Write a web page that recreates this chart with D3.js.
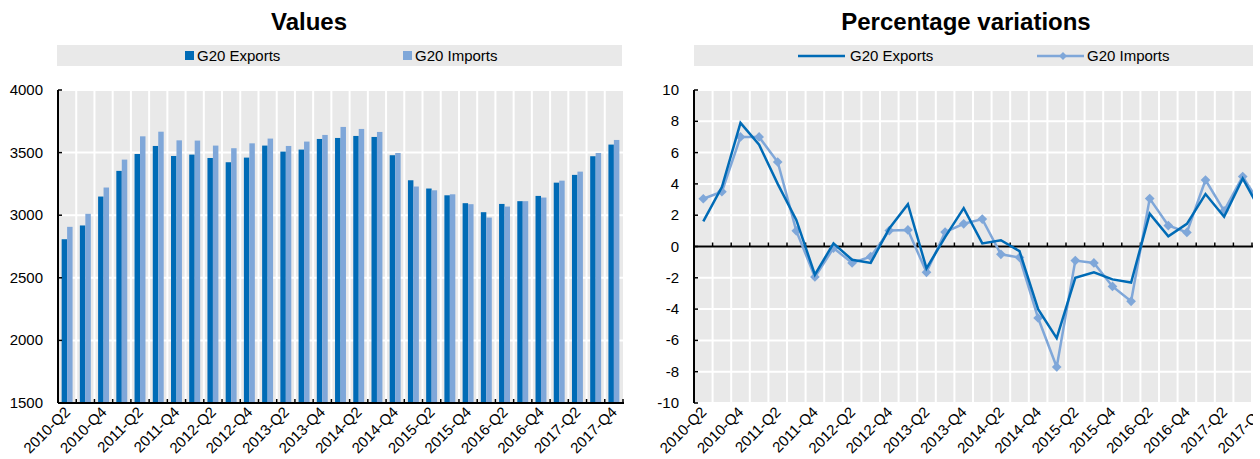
<!doctype html>
<html lang="en">
<head>
    <meta charset="utf-8"/>
    <title>G20 merchandise trade</title>
    <script src="https://d3js.org/d3.v7.min.js"></script>
    <style>
        body { margin: 0; padding: 0; background: #fff; }
        svg { display: block; font-family: "Liberation Sans", Arial, sans-serif; }
        .axis-label { font-size: 15px; fill: #000; }
        .legend-text { font-size: 15px; fill: #000; }
        .title { font-size: 24px; font-weight: bold; }
    </style>
</head>
<body>
<script>
    // quarters shown on both panels
    const quarters = [
        '2010-Q2', '2010-Q3', '2010-Q4',
        '2011-Q1', '2011-Q2', '2011-Q3', '2011-Q4',
        '2012-Q1', '2012-Q2', '2012-Q3', '2012-Q4',
        '2013-Q1', '2013-Q2', '2013-Q3', '2013-Q4',
        '2014-Q1', '2014-Q2', '2014-Q3', '2014-Q4',
        '2015-Q1', '2015-Q2', '2015-Q3', '2015-Q4',
        '2016-Q1', '2016-Q2', '2016-Q3', '2016-Q4',
        '2017-Q1', '2017-Q2', '2017-Q3', '2017-Q4'
    ];

    // values (left panel)
    const exportsValues = [2808, 2918, 3149, 3354, 3489, 3553, 3473, 3484, 3457, 3423, 3460, 3556, 3508, 3524, 3609,
        3617, 3633, 3625, 3479, 3279, 3213, 3159, 3096, 3024, 3090, 3112, 3154, 3260, 3322, 3471, 3564];
    const importsValues = [2907, 3011, 3221, 3444, 3630, 3667, 3598, 3596, 3556, 3535, 3574, 3612, 3553, 3588, 3641,
        3705, 3689, 3665, 3497, 3229, 3199, 3167, 3088, 2981, 3069, 3112, 3141, 3276, 3348, 3497, 3601];

    // percentage variations (right panel)
    const exportsPct = [1.6, 3.8, 7.9, 6.5, 4.0, 1.7, -1.8, 0.2, -0.85, -1.05, 1.15, 2.7, -1.4, 0.6, 2.45,
        0.2, 0.4, -0.3, -4.0, -5.85, -2.0, -1.65, -2.1, -2.3, 2.1, 0.65, 1.45, 3.35, 1.9, 4.35, 2.2];
    const importsPct = [3.05, 3.5, 7.0, 7.0, 5.4, 1.0, -1.95, -0.1, -1.05, -0.65, 1.02, 1.06, -1.65, 0.92, 1.45,
        1.75, -0.5, -0.7, -4.57, -7.7, -0.9, -1.05, -2.55, -3.5, 3.06, 1.34, 0.9, 4.25, 2.28, 4.47, 2.6];

    const valueTicks = [1500, 2000, 2500, 3000, 3500, 4000];
    const pctTicks = [-10, -8, -6, -4, -2, 0, 2, 4, 6, 8, 10];
    const seriesNames = ['G20 Exports', 'G20 Imports'];

    const darkBlue = '#006bb6';
    const lightBlue = '#7fa7d9';
    const panelGrey = '#e9e9e9';

    const svg = d3.select('body').append('svg')
        .attr('width', 1260)
        .attr('height', 459);

    // every other quarter gets a label
    const labelled = quarters.filter((d, i) => i % 2 === 0);

    // ---------------- left panel: values ----------------
    const L = {left: 58, right: 623, top: 90, bottom: 403};

    const xL = d3.scaleBand().domain(quarters).range([L.left, L.right]).padding(0);
    const xSub = d3.scaleBand().domain(seriesNames)
        .range([xL.bandwidth() * 0.2, xL.bandwidth() * 0.8]).padding(0);
    const yL = d3.scaleLinear().domain([1500, 4000]).range([L.bottom, L.top]);

    const gL = svg.append('g');

    gL.append('text').attr('class', 'title')
        .attr('x', 309).attr('y', 30).attr('text-anchor', 'middle')
        .text('Values');

    // legend
    gL.append('rect').attr('x', 57).attr('y', 45).attr('width', 565).attr('height', 21).attr('fill', panelGrey);
    const legL = [{name: seriesNames[0], c: darkBlue, x: 185}, {name: seriesNames[1], c: lightBlue, x: 403}];
    legL.forEach(function (d) {
        gL.append('rect').attr('x', d.x).attr('y', 51).attr('width', 9).attr('height', 9).attr('fill', d.c);
        gL.append('text').attr('class', 'legend-text').attr('x', d.x + 12).attr('y', 61).text(d.name);
    });

    gL.append('rect').attr('x', L.left).attr('y', L.top)
        .attr('width', L.right - L.left).attr('height', L.bottom - L.top).attr('fill', panelGrey);

    // grid lines
    gL.append('g').selectAll('line.h').data(valueTicks).join('line')
        .attr('x1', L.left).attr('x2', L.right)
        .attr('y1', d => yL(d)).attr('y2', d => yL(d))
        .attr('stroke', '#fff').attr('stroke-width', 2);
    gL.append('g').selectAll('line.v').data(quarters.slice(1)).join('line')
        .attr('x1', d => xL(d)).attr('x2', d => xL(d))
        .attr('y1', L.top).attr('y2', L.bottom)
        .attr('stroke', '#fff').attr('stroke-width', 2);

    // bars
    const rows = quarters.map((q, i) => ({q: q, vals: [exportsValues[i], importsValues[i]]}));
    gL.append('g').selectAll('g').data(rows).join('g')
        .attr('transform', d => `translate(${xL(d.q)},0)`)
        .selectAll('rect').data(d => d.vals.map((v, j) => ({name: seriesNames[j], v: v}))).join('rect')
        .attr('x', d => xSub(d.name))
        .attr('width', xSub.bandwidth())
        .attr('y', d => yL(d.v))
        .attr('height', d => yL(1500) - yL(d.v))
        .attr('fill', d => d.name === seriesNames[0] ? darkBlue : lightBlue);

    // axes
    gL.append('line').attr('x1', L.left).attr('x2', L.left).attr('y1', L.top).attr('y2', L.bottom)
        .attr('stroke', '#000').attr('stroke-width', 2);
    gL.append('g').selectAll('line').data(valueTicks).join('line')
        .attr('x1', L.left).attr('x2', L.left + 4).attr('y1', d => yL(d)).attr('y2', d => yL(d))
        .attr('stroke', '#000').attr('stroke-width', 1.5);
    gL.append('g').selectAll('text').data(valueTicks).join('text')
        .attr('class', 'axis-label')
        .attr('x', 43).attr('y', d => yL(d) + 5).attr('text-anchor', 'end')
        .text(d => d);

    gL.append('line').attr('x1', L.left).attr('x2', L.right + 1).attr('y1', L.bottom).attr('y2', L.bottom)
        .attr('stroke', '#000').attr('stroke-width', 2);
    gL.append('g').selectAll('line').data(quarters.slice(1).concat(['end'])).join('line')
        .attr('x1', d => d === 'end' ? L.right : xL(d)).attr('x2', d => d === 'end' ? L.right : xL(d))
        .attr('y1', L.bottom).attr('y2', L.bottom - 4)
        .attr('stroke', '#000').attr('stroke-width', 1.5);
    gL.append('g').selectAll('text').data(labelled).join('text')
        .attr('class', 'axis-label')
        .attr('text-anchor', 'end')
        .attr('transform', d => `translate(${xL(d) + xL.bandwidth() / 2 + 4},${L.bottom + 10}) rotate(-45)`)
        .text(d => d);

    // ---------------- right panel: percentage variations ----------------
    const R = {left: 694, top: 90, bottom: 403};
    R.right = R.left + 18.6 * quarters.length;

    const xR = d3.scaleBand().domain(quarters).range([R.left, R.right]).padding(0);
    const yR = d3.scaleLinear().domain([-10, 10]).range([R.bottom, R.top]);
    const cx = d => xR(d) + xR.bandwidth() / 2;

    svg.append('clipPath').attr('id', 'cut')
        .append('rect').attr('x', 630).attr('y', 0).attr('width', 623).attr('height', 459);

    const gR = svg.append('g').attr('clip-path', 'url(#cut)');

    gR.append('text').attr('class', 'title')
        .attr('x', 966).attr('y', 30).attr('text-anchor', 'middle')
        .text('Percentage variations');

    gR.append('rect').attr('x', 694).attr('y', 45).attr('width', 600).attr('height', 21).attr('fill', panelGrey);
    gR.append('line').attr('x1', 798).attr('x2', 845).attr('y1', 56).attr('y2', 56)
        .attr('stroke', darkBlue).attr('stroke-width', 2.5);
    gR.append('text').attr('class', 'legend-text').attr('x', 850).attr('y', 61).text(seriesNames[0]);
    gR.append('line').attr('x1', 1037).attr('x2', 1084).attr('y1', 56).attr('y2', 56)
        .attr('stroke', lightBlue).attr('stroke-width', 2.5);
    gR.append('path').attr('d', d3.symbol(d3.symbolDiamond2, 40)())
        .attr('transform', 'translate(1063,56)').attr('fill', lightBlue);
    gR.append('text').attr('class', 'legend-text').attr('x', 1087).attr('y', 61).text(seriesNames[1]);

    gR.append('rect').attr('x', R.left).attr('y', R.top)
        .attr('width', R.right - R.left).attr('height', R.bottom - R.top).attr('fill', panelGrey);

    gR.append('g').selectAll('line').data(pctTicks).join('line')
        .attr('x1', R.left).attr('x2', R.right)
        .attr('y1', d => yR(d)).attr('y2', d => yR(d))
        .attr('stroke', '#fff').attr('stroke-width', 2);
    gR.append('g').selectAll('line').data(quarters.slice(1)).join('line')
        .attr('x1', d => xR(d)).attr('x2', d => xR(d))
        .attr('y1', R.top).attr('y2', R.bottom)
        .attr('stroke', '#fff').attr('stroke-width', 2);

    // zero line with ticks
    gR.append('line').attr('x1', R.left).attr('x2', R.right).attr('y1', yR(0)).attr('y2', yR(0))
        .attr('stroke', '#000').attr('stroke-width', 2);
    gR.append('g').selectAll('line').data(quarters.slice(1)).join('line')
        .attr('x1', d => xR(d)).attr('x2', d => xR(d))
        .attr('y1', yR(0)).attr('y2', yR(0) - 4)
        .attr('stroke', '#000').attr('stroke-width', 1.5);

    // left axis
    gR.append('line').attr('x1', R.left).attr('x2', R.left).attr('y1', R.top).attr('y2', R.bottom)
        .attr('stroke', '#000').attr('stroke-width', 2);
    gR.append('g').selectAll('line').data(pctTicks).join('line')
        .attr('x1', R.left).attr('x2', R.left + 4).attr('y1', d => yR(d)).attr('y2', d => yR(d))
        .attr('stroke', '#000').attr('stroke-width', 1.5);
    gR.append('g').selectAll('text').data(pctTicks).join('text')
        .attr('class', 'axis-label')
        .attr('x', 679).attr('y', d => yR(d) + 5).attr('text-anchor', 'end')
        .text(d => d);

    gR.append('g').selectAll('text').data(labelled).join('text')
        .attr('class', 'axis-label')
        .attr('text-anchor', 'end')
        .attr('transform', d => `translate(${cx(d) + 4},${R.bottom + 10}) rotate(-45)`)
        .text(d => d);

    // lines
    const line = d3.line().x((d, i) => cx(quarters[i])).y(d => yR(d));
    gR.append('path').datum(importsPct).attr('d', line)
        .attr('fill', 'none').attr('stroke', lightBlue).attr('stroke-width', 2.5);
    gR.append('g').selectAll('path').data(importsPct).join('path')
        .attr('d', d3.symbol(d3.symbolDiamond2, 60)())
        .attr('transform', (d, i) => `translate(${cx(quarters[i])},${yR(d)})`)
        .attr('fill', lightBlue);
    gR.append('path').datum(exportsPct).attr('d', line)
        .attr('fill', 'none').attr('stroke', darkBlue).attr('stroke-width', 2.5);
</script>
</body>
</html>
